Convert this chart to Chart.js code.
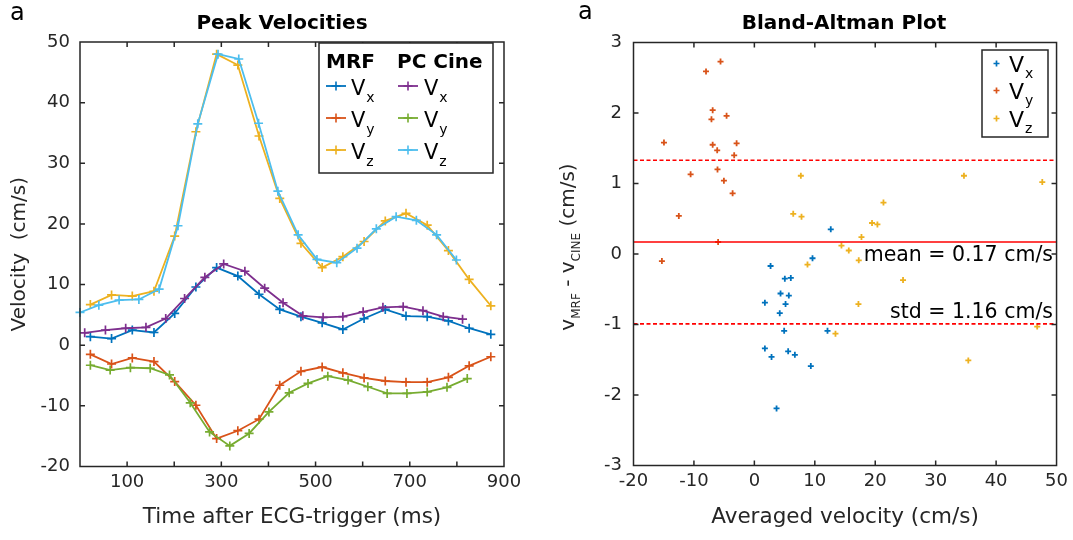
<!DOCTYPE html>
<html><head><meta charset="utf-8">
<script src="https://cdn.jsdelivr.net/npm/chart.js@4.4.0/dist/chart.umd.min.js"></script>
<style>
html,body{margin:0;padding:0;background:#fff;}
#wrap{position:relative;width:1073px;height:540px;overflow:hidden;background:#fff;}
#c1{position:absolute;left:0;top:0;width:540px;height:540px;}
#c2{position:absolute;left:540px;top:0;width:533px;height:540px;}
</style></head><body>
<div id="wrap"><canvas id="c1" width="540" height="540"></canvas><canvas id="c2" width="533" height="540"></canvas></div>
<script>
const FONT = "'DejaVu Sans', sans-serif";
const INK = '#262626';

// ---------- Left panel: Peak Velocities ----------
const mrfTime = [22, 67, 111, 157, 201, 246, 290, 335, 380, 424, 469, 514, 558, 603, 648, 692, 737, 782, 826, 872];
const mrfVx = [1.4, 1.1, 2.5, 2.1, 5.25, 9.6, 12.8, 11.4, 8.4, 5.9, 4.7, 3.7, 2.6, 4.4, 5.9, 4.8, 4.7, 4.0, 2.8, 1.8];
const mrfVy = [-1.5, -3.1, -2.1, -2.7, -6.0, -9.9, -15.4, -14.1, -12.2, -6.6, -4.3, -3.6, -4.55, -5.4, -5.9, -6.1, -6.1, -5.3, -3.4, -1.9];
const mrfVz = [6.7, 8.3, 8.1, 8.9, 18.0, 35.2, 48.0, 46.2, 34.5, 24.2, 16.8, 12.8, 14.6, 17.1, 20.5, 21.75, 19.8, 15.6, 10.85, 6.5];

const pcVxTime = [10, 54, 97, 140, 182, 222, 265, 305, 350, 392, 431, 473, 516, 558, 601, 643, 686, 728, 771, 812];
const pcVx = [2.05, 2.5, 2.8, 2.95, 4.4, 7.7, 11.2, 13.4, 12.2, 9.4, 7.0, 4.85, 4.6, 4.7, 5.5, 6.25, 6.35, 5.7, 4.7, 4.3];
const pcVyTime = [22, 64, 107, 149, 190, 234, 275, 318, 359, 401, 444, 484, 526, 569, 611, 652, 694, 737, 779, 822];
const pcVy = [-3.3, -4.1, -3.7, -3.8, -4.9, -9.5, -14.3, -16.6, -14.55, -11.0, -7.85, -6.3, -5.1, -5.75, -6.85, -7.95, -7.95, -7.7, -6.95, -5.5];
const pcVzTime = [0, 40, 83, 125, 168, 208, 250, 293, 337, 379, 420, 463, 503, 545, 588, 629, 671, 714, 757, 799];
const pcVz = [5.4, 6.6, 7.45, 7.55, 9.25, 19.7, 36.5, 48.0, 47.2, 36.6, 25.4, 18.2, 14.15, 13.6, 16.0, 19.2, 21.2, 20.6, 18.2, 14.05];

const leftXLabels = ['100', '300', '500', '700', '900'];

// ---------- Right panel: Bland-Altman ----------
const baVxX = [2.68, 5.04, 6.03, 4.33, 5.7, 1.74, 5.16, 4.2, 4.93, 1.74, 2.84, 5.59, 6.7, 3.67, 9.62, 12.64, 12.1, 9.34];
const baVxY = [-0.17, -0.35, -0.34, -0.56, -0.59, -0.69, -0.71, -0.84, -1.09, -1.34, -1.46, -1.38, -1.43, -2.19, -0.06, 0.35, -1.09, -1.59];
const baVyX = [-14.96, -12.5, -10.55, -8.0, -5.6, -6.9, -7.1, -4.6, -6.9, -6.15, -2.94, -3.34, -6.1, -5.04, -3.6, -6.0, -15.3];
const baVyY = [1.58, 0.54, 1.13, 2.59, 2.73, 2.04, 1.91, 1.96, 1.55, 1.47, 1.57, 1.40, 1.20, 1.04, 0.86, 0.17, -0.10];
const baVzX = [7.69, 34.68, 47.64, 21.36, 6.43, 7.8, 19.47, 20.36, 17.72, 14.41, 15.62, 17.27, 8.79, 24.6, 17.22, 13.42, 46.8, 35.4];
const baVzY = [1.11, 1.11, 1.02, 0.73, 0.57, 0.53, 0.44, 0.42, 0.24, 0.12, 0.05, -0.09, -0.15, -0.37, -0.71, -1.13, -1.03, -1.51];
const meanDiff = 0.17;
const stdDiff = 1.16;

const COL = {blue:'#0072BD', orange:'#D95319', yellow:'#EDB120', purple:'#7E2F8E', green:'#77AC30', cyan:'#4DBEEE'};

const zip = (xs, ys) => xs.map((x, i) => ({x, y: ys[i]}));

function lineDs(label, t, v, color, order) {
  return {label, data: zip(t, v), borderColor: color, backgroundColor: color, borderWidth: 1.8,
    pointStyle: 'cross', pointRadius: 4.5, pointHoverRadius: 4.5, pointBorderWidth: 1.7,
    tension: 0, order, clip: 8, fill: false};
}

// frame + inward ticks
const frameTicks = {
  id: 'frameTicks',
  afterDatasetsDraw(chart) {
    const {ctx, chartArea: a, scales} = chart;
    const xs = scales.x, ys = scales.y, L = 5;
    ctx.save();
    ctx.strokeStyle = INK; ctx.lineWidth = 1.5;
    ctx.beginPath();
    xs.ticks.forEach(t => {
      const p = xs.getPixelForValue(t.value);
      if (p <= a.left + 1 || p >= a.right - 1) return;
      ctx.moveTo(p, a.bottom); ctx.lineTo(p, a.bottom - L);
      ctx.moveTo(p, a.top); ctx.lineTo(p, a.top + L);
    });
    ys.ticks.forEach(t => {
      const p = ys.getPixelForValue(t.value);
      if (p <= a.top + 1 || p >= a.bottom - 1) return;
      ctx.moveTo(a.left, p); ctx.lineTo(a.left + L, p);
      ctx.moveTo(a.right, p); ctx.lineTo(a.right - L, p);
    });
    ctx.stroke();
    ctx.strokeRect(a.left, a.top, a.right - a.left, a.bottom - a.top);
    ctx.restore();
  }
};

function drawPlus(ctx, x, y, r) {
  ctx.beginPath();
  ctx.moveTo(x - r, y); ctx.lineTo(x + r, y);
  ctx.moveTo(x, y - r); ctx.lineTo(x, y + r);
  ctx.stroke();
}

function drawVsub(ctx, x, y, sub, big, small, dy) {
  ctx.font = big + 'px ' + FONT;
  ctx.fillText('V', x, y);
  const w = ctx.measureText('V').width;
  ctx.font = small + 'px ' + FONT;
  ctx.fillText(sub, x + w + 1, y + dy);
}

const leftDecor = {
  id: 'leftDecor',
  afterDraw(chart) {
    const ctx = chart.ctx;
    ctx.save();
    ctx.fillStyle = '#000';
    ctx.textBaseline = 'alphabetic';
    ctx.textAlign = 'left';
    ctx.font = '24px ' + FONT;
    ctx.fillText('a', 10, 20);
    ctx.textAlign = 'center';
    ctx.font = 'bold 20px ' + FONT;
    ctx.fillText('Peak Velocities', 282, 28.5);
    // legend
    const bx = 319, by = 43, bw = 174, bh = 130;
    ctx.fillStyle = '#fff';
    ctx.fillRect(bx, by, bw, bh);
    ctx.strokeStyle = INK; ctx.lineWidth = 1.5;
    ctx.strokeRect(bx, by, bw, bh);
    ctx.fillStyle = '#000';
    ctx.textAlign = 'left';
    ctx.font = 'bold 20px ' + FONT;
    ctx.fillText('MRF', 326, 67.5);
    ctx.fillText('PC Cine', 397, 67.5);
    const rows = [95, 127, 159];
    const subs = ['x', 'y', 'z'];
    const cols = [
      {lx: 326, tx: 351, colors: [COL.blue, COL.orange, COL.yellow]},
      {lx: 398, tx: 424, colors: [COL.purple, COL.green, COL.cyan]}
    ];
    cols.forEach(c => {
      rows.forEach((b, i) => {
        const ly = b - 9;
        ctx.strokeStyle = c.colors[i]; ctx.lineWidth = 1.8;
        ctx.beginPath(); ctx.moveTo(c.lx, ly); ctx.lineTo(c.lx + 20, ly); ctx.stroke();
        ctx.lineWidth = 1.6;
        drawPlus(ctx, c.lx + 10, ly, 4.5);
        ctx.fillStyle = '#000';
        drawVsub(ctx, c.tx, b, subs[i], 21, 14, 7);
      });
    });
    ctx.restore();
  }
};

const tickFont = {family: FONT, size: 18};
const titleFont = {family: FONT, size: 20};
const xTitleFont = {family: FONT, size: 21.5};

new Chart(document.getElementById('c1'), {
  type: 'line',
  data: {
    datasets: [
      lineDs('MRF Vx', mrfTime, mrfVx, COL.blue, 2),
      lineDs('MRF Vy', mrfTime, mrfVy, COL.orange, 2),
      lineDs('MRF Vz', mrfTime, mrfVz, COL.yellow, 2),
      lineDs('PC Cine Vx', pcVxTime, pcVx, COL.purple, 1),
      lineDs('PC Cine Vy', pcVyTime, pcVy, COL.green, 1),
      lineDs('PC Cine Vz', pcVzTime, pcVz, COL.cyan, 1)
    ]
  },
  options: {
    responsive: false, animation: false, events: [],
    layout: {padding: {left: 0, right: 36, top: 42, bottom: 0}},
    plugins: {legend: {display: false}, tooltip: {enabled: false}, title: {display: false}},
    scales: {
      x: {
        type: 'linear', min: 0, max: 900,
        afterFit: s => { s.height = 73.5; },
        grid: {display: false, drawTicks: false}, border: {display: false},
        ticks: {stepSize: 100, autoSkip: false, maxRotation: 0, padding: 5, color: INK, font: tickFont,
          callback: v => leftXLabels.includes(String(v)) ? String(v) : ''},
        title: {display: true, text: 'Time after ECG-trigger (ms)', color: INK, font: xTitleFont, padding: {top: 0, bottom: 10}}
      },
      y: {
        min: -20, max: 50,
        afterFit: s => { s.width = 80; },
        grid: {display: false, drawTicks: false}, border: {display: false},
        ticks: {stepSize: 10, autoSkip: false, padding: 10, color: INK, font: tickFont},
        title: {display: true, text: 'Velocity  (cm/s)', color: INK, font: titleFont, padding: {top: 8, bottom: 0}}
      }
    }
  },
  plugins: [frameTicks, leftDecor]
});

// ---------- Right chart ----------
function scatterDs(label, xs, ys, color) {
  return {label, data: zip(xs, ys), borderColor: color, backgroundColor: color,
    pointStyle: 'cross', pointRadius: 3, pointHoverRadius: 3, pointBorderWidth: 1.8, showLine: false, order: 2};
}
function hLine(label, y, dash) {
  return {label, type: 'line', data: [{x: -20, y}, {x: 50, y}], borderColor: '#FF0000', borderWidth: 1.7,
    borderDash: dash, pointRadius: 0, showLine: true, fill: false, order: 1};
}

const rightDecor = {
  id: 'rightDecor',
  afterDraw(chart) {
    const ctx = chart.ctx;
    const ys = chart.scales.y;
    ctx.save();
    ctx.fillStyle = '#000';
    ctx.textBaseline = 'alphabetic';
    ctx.textAlign = 'left';
    ctx.font = '24px ' + FONT;
    ctx.fillText('a', 38, 19);
    ctx.textAlign = 'center';
    ctx.font = 'bold 20px ' + FONT;
    ctx.fillText('Bland-Altman Plot', 304, 28.5);
    // annotations
    ctx.textAlign = 'right';
    ctx.font = '20.5px ' + FONT;
    ctx.fillStyle = '#000';
    ctx.fillText('mean = ' + meanDiff.toFixed(2) + ' cm/s', 513, ys.getPixelForValue(meanDiff) + 18.5);
    ctx.fillText('std = ' + stdDiff.toFixed(2) + ' cm/s', 513, ys.getPixelForValue(meanDiff - stdDiff) - 6);
    // legend
    const bx = 442, by = 50, bw = 66, bh = 87;
    ctx.fillStyle = '#fff';
    ctx.fillRect(bx, by, bw, bh);
    ctx.strokeStyle = INK; ctx.lineWidth = 1.5;
    ctx.strokeRect(bx, by, bw, bh);
    const rows = [71.5, 98.5, 126.5];
    const subs = ['x', 'y', 'z'];
    const cols = [COL.blue, COL.orange, COL.yellow];
    ctx.textAlign = 'left';
    rows.forEach((b, i) => {
      ctx.strokeStyle = cols[i]; ctx.lineWidth = 1.7;
      drawPlus(ctx, 456.5, b - 8, 3);
      ctx.fillStyle = '#000';
      drawVsub(ctx, 469, b, subs[i], 22, 14, 6);
    });
    // rotated y label with subscripts
    ctx.translate(33.5, 247);
    ctx.rotate(-Math.PI / 2);
    const parts = [
      {t: 'v', s: 20, dy: 0}, {t: 'MRF', s: 12, dy: 6},
      {t: ' - v', s: 20, dy: 0}, {t: 'CINE', s: 12, dy: 6},
      {t: ' (cm/s)', s: 20, dy: 0}
    ];
    let total = 0;
    parts.forEach(p => { ctx.font = p.s + 'px ' + FONT; p.w = ctx.measureText(p.t).width; total += p.w; });
    let x = -total / 2;
    ctx.fillStyle = INK;
    parts.forEach(p => { ctx.font = p.s + 'px ' + FONT; ctx.fillText(p.t, x, p.dy); x += p.w; });
    ctx.restore();
  }
};

new Chart(document.getElementById('c2'), {
  type: 'scatter',
  data: {
    datasets: [
      scatterDs('Vx', baVxX, baVxY, COL.blue),
      scatterDs('Vy', baVyX, baVyY, COL.orange),
      scatterDs('Vz', baVzX, baVzY, COL.yellow),
      hLine('mean', meanDiff, []),
      hLine('mean + std', meanDiff + stdDiff, [4, 2.5]),
      hLine('mean - std', meanDiff - stdDiff, [4, 2.5])
    ]
  },
  options: {
    responsive: false, animation: false, events: [],
    layout: {padding: {left: 0, right: 16, top: 42.5, bottom: 0}},
    plugins: {legend: {display: false}, tooltip: {enabled: false}, title: {display: false}},
    scales: {
      x: {
        type: 'linear', min: -20, max: 50,
        afterFit: s => { s.height = 74.5; },
        grid: {display: false, drawTicks: false}, border: {display: false},
        ticks: {stepSize: 10, autoSkip: false, maxRotation: 0, padding: 5, color: INK, font: tickFont},
        title: {display: true, text: 'Averaged velocity (cm/s)', color: INK, font: xTitleFont, padding: {top: 0, bottom: 10}}
      },
      y: {
        min: -3, max: 3,
        afterFit: s => { s.width = 93.5; },
        grid: {display: false, drawTicks: false}, border: {display: false},
        ticks: {stepSize: 1, autoSkip: false, padding: 11.5, color: INK, font: tickFont},
        title: {display: false}
      }
    }
  },
  plugins: [frameTicks, rightDecor]
});
</script>
</body></html>
